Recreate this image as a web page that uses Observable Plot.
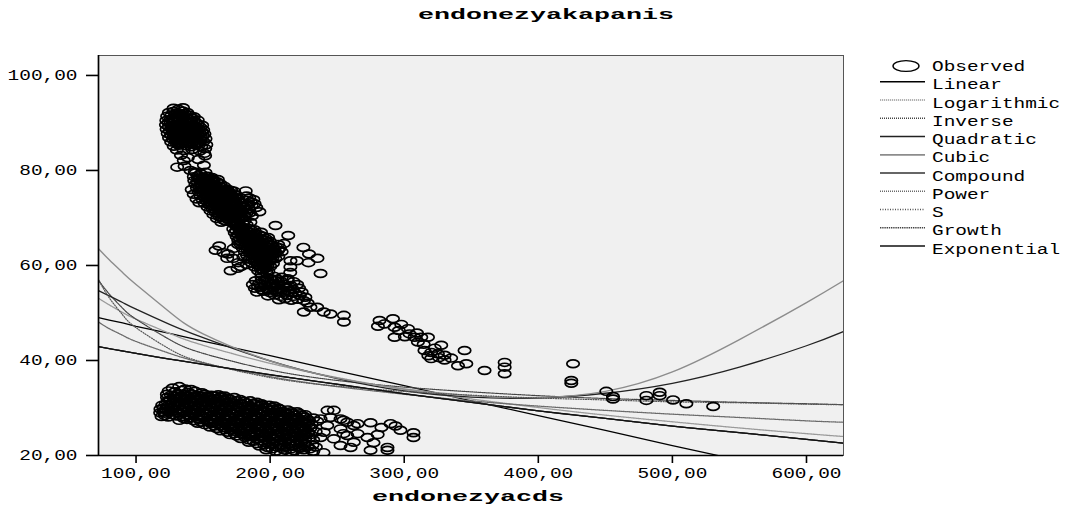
<!DOCTYPE html>
<html><head><meta charset="utf-8">
<script src="https://cdn.jsdelivr.net/npm/d3@7"></script>
<script src="https://cdn.jsdelivr.net/npm/@observablehq/plot@0.6"></script>
<style>
html,body{margin:0;padding:0;background:#fff;}
#chart{position:relative;width:1074px;height:507px;}
</style></head><body><div id="chart"></div>
<script>
const titleText = "endonezyakapanis";
const xLabel = "endonezyacds";
const xDomain = [72, 627.6];
const yDomain = [20, 104.2];
const xTicks = [100, 200, 300, 400, 500, 600];
const yTicks = [20, 40, 60, 80, 100];
const modelNames = ["Linear","Logarithmic","Inverse","Quadratic","Cubic","Compound","Power","S","Growth","Exponential"];

const fitX = [72, 80, 90, 100, 125, 150, 200, 250, 300, 350, 400, 450, 500, 550, 600, 627.6];
const linearFit = [49.0, 48.5, 47.9, 47.2, 45.7, 44.1, 41.0, 37.8, 34.7, 31.5, 28.4, 25.3, 22.1, 19.0, 15.8, 14.1];
const logFit = [53.1, 51.7, 50.1, 48.7, 45.7, 43.2, 39.4, 36.4, 33.9, 31.9, 30.1, 28.5, 27.1, 25.8, 24.6, 24.0];
const inverseFit = [56.9, 54.0, 51.0, 48.7, 44.4, 41.5, 38.0, 35.8, 34.4, 33.4, 32.6, 32.0, 31.6, 31.2, 30.9, 30.7];
const quadraticFit = [54.7, 53.6, 52.2, 50.8, 47.6, 44.8, 39.9, 36.2, 33.6, 32.3, 32.1, 33.1, 35.2, 38.6, 43.1, 46.1];
const cubicFit = [63.5, 61.2, 58.5, 56.0, 50.2, 45.6, 39.9, 36.3, 34.0, 32.6, 32.2, 33.5, 37.6, 44.4, 52.2, 56.8];
const powerFit = [48.1, 46.7, 45.3, 44.0, 41.5, 39.5, 36.6, 34.5, 32.9, 31.5, 30.4, 29.5, 28.7, 28.0, 27.3, 27.0];
const sFit = [57.0, 53.2, 49.6, 46.9, 42.4, 39.6, 36.4, 34.6, 33.5, 32.7, 32.1, 31.7, 31.3, 31.1, 30.8, 30.7];
const expFit = [42.9, 42.5, 42.0, 41.5, 40.3, 39.2, 37.0, 35.0, 33.0, 31.2, 29.4, 27.8, 26.2, 24.8, 23.4, 22.6];

const upperBand = [
[128.0,93.1],[131.5,92.9],[135.0,93.2],
[124.5,92.2],[127.8,92.4],[131.2,92.1],[134.6,92.5],[138.2,92.2],
[123.2,91.4],[126.5,91.6],[129.9,91.3],[133.3,91.7],[136.8,91.4],[140.2,91.6],[143.1,91.3],
[122.6,90.5],[125.9,90.8],[129.3,90.4],[132.7,90.7],[136.1,90.5],[139.5,90.8],[142.9,90.4],[146.0,90.6],
[122.3,89.6],[125.6,89.9],[129.0,89.5],[132.4,89.8],[135.8,89.6],[139.2,89.9],[142.6,89.5],[146.1,89.8],[149.3,89.5],
[122.8,88.7],[126.2,88.9],[129.6,88.6],[133.0,88.9],[136.4,88.7],[139.8,88.9],[143.2,88.6],[146.6,88.8],[150.1,88.5],
[123.6,87.8],[127.0,88.0],[130.4,87.7],[133.8,88.0],[137.2,87.8],[140.6,88.0],[144.0,87.6],[147.4,87.9],[151.0,87.7],
[124.6,86.9],[128.0,87.1],[131.4,86.8],[134.8,87.1],[138.2,86.9],[141.6,87.1],[145.0,86.8],[148.4,87.0],[151.8,86.7],
[126.2,86.0],[129.6,86.2],[133.0,85.9],[136.4,86.2],[139.8,86.0],[143.2,86.2],[146.6,85.9],[150.2,86.1],[152.4,85.4],
[128.1,85.1],[132.0,85.3],[137.5,85.2],[141.2,85.0],[144.8,85.3],[148.6,85.0],[151.6,84.6],
[130.4,84.3],[135.6,84.2],[142.0,84.4],[147.5,84.1],[150.9,83.6],
[129.6,92.0],[133.0,92.0],[136.4,92.0],
[128.2,91.0],[131.6,91.0],[135.0,91.1],[138.4,91.0],[141.8,91.0],
[124.2,90.1],[127.6,90.2],[131.0,90.1],[134.4,90.2],[137.8,90.1],[141.2,90.2],[144.6,90.1],
[124.5,89.2],[127.9,89.3],[131.3,89.2],[134.7,89.3],[138.1,89.2],[141.5,89.3],[144.9,89.2],[148.0,89.1],
[125.2,88.3],[128.6,88.4],[132.0,88.3],[135.4,88.4],[138.8,88.3],[142.2,88.4],[145.6,88.3],[149.0,88.2],
[126.2,87.4],[129.6,87.5],[133.0,87.4],[136.4,87.5],[139.8,87.4],[143.2,87.5],[146.6,87.4],[150.0,87.3],
[127.8,86.5],[131.2,86.6],[134.6,86.5],[138.0,86.6],[141.4,86.5],[144.8,86.6],[148.2,86.5],
[130.4,85.7],[134.6,85.7],[139.5,85.6],[143.5,85.7],[147.5,85.6],
[133.5,83.2],[138.6,82.7],[146.5,82.3],[151.5,83.1],[135.6,82.1],[130.7,80.7],[140.6,80.0],[150.6,81.1],[143.8,79.7],[136.2,80.9],
[144.6,79.5],[148.2,79.3],[151.8,79.6],
[143.1,78.7],[146.5,78.9],[150.0,78.6],[153.4,78.8],[156.6,78.5],
[143.4,77.9],[146.9,78.1],[150.6,77.8],[154.1,78.0],[157.9,77.8],[161.0,78.1],
[144.3,77.1],[148.1,77.3],[151.8,77.0],[155.5,77.2],[159.3,76.9],[162.8,77.2],
[145.4,76.3],[149.1,76.5],[153.1,76.2],[156.8,76.4],[160.5,76.2],[164.2,76.4],[168.0,76.1],
[146.7,75.5],[150.3,75.7],[154.4,75.4],[158.0,75.6],[162.0,75.4],[165.6,75.6],[169.4,75.3],[173.2,75.6],[181.8,75.7],
[148.1,74.7],[151.8,74.9],[155.8,74.6],[159.5,74.8],[163.4,74.6],[167.1,74.8],[171.0,74.5],[174.8,74.8],[182.4,74.6],
[149.6,73.9],[153.3,74.1],[157.3,73.8],[161.0,74.0],[165.0,73.8],[168.6,74.0],[172.6,73.7],[176.5,74.0],[183.1,73.7],[187.5,73.9],
[151.1,73.1],[154.7,73.3],[158.8,73.0],[162.4,73.2],[166.5,73.0],[170.1,73.2],[174.2,72.9],[178.0,73.2],[183.7,72.8],[188.4,73.0],
[153.3,72.3],[156.9,72.5],[161.0,72.2],[164.6,72.4],[168.7,72.2],[172.3,72.4],[176.4,72.1],[180.2,72.4],[184.3,71.9],[189.7,72.2],
[155.5,71.5],[159.2,71.7],[163.2,71.4],[166.9,71.6],[170.9,71.4],[174.6,71.6],[178.6,71.3],[184.9,71.1],[192.0,71.3],
[157.7,70.7],[161.4,70.9],[165.5,70.6],[169.1,70.8],[173.2,70.6],[176.9,70.8],[181.2,70.5],[186.4,70.4],
[160.3,69.9],[164.0,70.1],[168.1,69.8],[171.7,70.0],[175.8,69.8],[179.5,70.0],
[163.6,69.1],[167.3,69.3],[171.4,69.0],[175.1,69.2],[179.4,68.9],[185.3,69.1],
[141.5,76.0],[143.0,75.0],[145.1,74.0],[147.2,73.2],
[146.2,78.3],[149.8,78.3],[153.2,78.4],[156.3,78.2],
[146.2,77.5],[149.8,77.5],[153.5,77.6],[157.2,77.5],[160.6,77.6],
[147.2,76.7],[151.0,76.8],[154.8,76.7],[158.6,76.8],[162.2,76.7],[165.6,76.7],
[148.5,75.9],[152.3,76.0],[156.1,75.9],[159.9,76.0],[163.7,75.9],[167.4,75.9],[171.0,75.8],
[150.0,75.1],[153.8,75.2],[157.6,75.1],[161.4,75.2],[165.2,75.1],[169.0,75.2],[172.8,75.1],
[151.5,74.3],[155.3,74.4],[159.1,74.3],[162.9,74.4],[166.7,74.3],[170.5,74.4],[174.3,74.3],[184.5,74.2],
[153.0,73.5],[156.8,73.6],[160.6,73.5],[164.4,73.6],[168.2,73.5],[172.0,73.6],[175.8,73.5],[185.5,73.4],
[155.0,72.7],[158.8,72.8],[162.6,72.7],[166.4,72.8],[170.2,72.7],[174.0,72.8],[177.8,72.7],[186.2,72.6],
[157.2,71.9],[161.0,72.0],[164.8,71.9],[168.6,72.0],[172.4,71.9],[176.2,72.0],[180.0,71.9],
[159.5,71.1],[163.3,71.2],[167.1,71.1],[170.9,71.2],[174.7,71.1],[178.5,71.2],[182.3,71.0],
[162.0,70.3],[165.8,70.4],[169.6,70.3],[173.4,70.4],[177.2,70.3],[181.0,70.2],
[165.5,69.5],[169.3,69.6],[173.1,69.5],[176.9,69.6],[181.0,69.4],
[174.0,68.5],[178.0,68.3],[182.5,68.6],
[172.5,67.7],[176.3,67.9],[180.1,67.6],[184.0,67.8],[188.2,67.5],
[173.6,66.9],[177.4,67.1],[181.3,66.8],[185.1,67.0],[189.0,66.8],[193.2,67.0],[213.5,66.3],
[175.0,66.1],[178.8,66.3],[182.6,66.0],[186.5,66.2],[190.3,66.0],[194.2,66.2],[198.5,65.9],
[176.2,65.3],[180.0,65.5],[183.9,65.2],[187.7,65.4],[191.6,65.2],[195.4,65.4],[199.8,65.1],
[177.8,64.5],[181.6,64.7],[185.5,64.4],[189.3,64.6],[193.2,64.4],[197.0,64.6],[201.2,64.3],[206.0,64.4],[210.2,64.6],
[179.5,63.7],[183.3,63.9],[187.2,63.6],[191.0,63.8],[194.9,63.6],[198.7,63.8],[202.6,63.5],[207.3,63.7],[224.8,63.8],
[181.1,62.9],[185.0,63.1],[188.8,62.8],[192.7,63.0],[196.5,62.8],[200.4,63.0],[204.2,62.7],[208.6,62.9],
[182.8,62.1],[186.6,62.3],[190.5,62.0],[194.3,62.2],[198.2,62.0],[202.0,62.2],[206.1,61.9],
[184.6,61.3],[188.4,61.5],[192.3,61.2],[196.1,61.4],[200.0,61.2],[203.9,61.4],[215.2,61.0],[235.3,61.5],
[186.4,60.5],[190.3,60.7],[194.1,60.4],[198.0,60.6],[202.1,60.4],[215.1,59.7],[228.6,60.6],
[188.5,59.7],[192.4,59.9],[196.2,59.6],[200.1,59.8],
[191.0,58.9],[194.8,59.1],[198.7,58.8],[215.0,58.5],[237.6,58.3],
[193.5,58.2],[197.4,58.4],
[176.0,68.1],[180.0,68.0],
[174.6,67.3],[178.4,67.4],[182.2,67.3],[186.0,67.4],
[176.2,66.5],[180.0,66.6],[183.8,66.5],[187.6,66.6],[191.4,66.5],
[177.6,65.7],[181.4,65.8],[185.2,65.7],[189.0,65.8],[192.8,65.7],[196.6,65.7],
[179.0,64.9],[182.8,65.0],[186.6,64.9],[190.4,65.0],[194.2,64.9],[198.0,65.0],
[181.6,64.1],[185.4,64.2],[189.2,64.1],[193.0,64.2],[196.8,64.1],[200.6,64.2],[204.4,64.0],
[183.2,63.3],[187.0,63.4],[190.8,63.3],[194.6,63.4],[198.4,63.3],[202.2,63.4],[206.0,63.2],
[185.0,62.5],[188.8,62.6],[192.6,62.5],[196.4,62.6],[200.2,62.5],[204.0,62.5],
[186.6,61.7],[190.4,61.8],[194.2,61.7],[198.0,61.8],[201.8,61.7],
[188.5,60.9],[192.3,61.0],[196.1,60.9],[200.0,61.0],
[190.5,60.1],[194.3,60.2],[198.1,60.1],
[193.0,59.3],[196.8,59.4],
[159.3,63.2],[165.2,62.7],[162.0,64.1],[170.5,58.9],[175.7,59.4],[168.0,61.5],[168.5,62.4],[172.4,61.5],[176.3,60.6],[180.1,61.8],[178.2,59.8],[182.6,60.2],[172.8,63.6],[176.1,64.4],
[204.0,68.4],[220.0,61.0],[229.0,62.4],
[193.5,57.6],[198.2,57.4],[203.1,57.7],[208.7,57.5],[213.2,57.2],
[189.2,56.8],[193.8,56.9],[198.5,56.6],[203.4,56.9],[208.0,56.7],[212.8,56.9],[217.5,56.6],
[187.1,56.0],[191.7,56.2],[196.4,55.9],[201.2,56.1],[205.8,55.9],[210.5,56.1],[215.3,55.8],[220.2,56.0],
[188.6,55.2],[193.3,55.4],[198.0,55.1],[202.7,55.3],[207.4,55.1],[212.1,55.3],[216.9,55.0],[221.6,55.2],
[190.2,54.4],[195.0,54.6],[199.8,54.3],[204.6,54.5],[209.3,54.3],[214.0,54.5],[218.8,54.2],[223.5,54.4],
[198.4,53.6],[203.2,53.8],[208.0,53.5],[212.6,53.7],[217.4,53.5],[222.1,53.7],[226.3,53.3],
[206.5,52.8],[211.2,53.0],[215.8,52.7],[220.5,52.9],[225.2,52.6],
[196.0,57.0],[200.8,57.2],[205.6,57.1],[191.0,55.6],[195.9,55.7],[200.6,55.6],[205.3,55.7],[210.0,55.6],[214.7,55.5],
[194.0,54.9],[199.0,54.8],[203.8,54.9],[208.5,54.8],[213.2,54.8],
[225.1,50.2],[230.1,51.2],[235.1,51.2],[240.0,50.2],[245.0,49.8],[255.0,49.5],[255.0,48.1],[228.0,52.1],
[281.6,48.4],[285.3,47.7],[291.6,48.8],[292.8,47.0],[297.8,47.6],[280.4,47.2],[302.8,46.7],[292.8,44.9],[304.0,45.6],[307.7,44.9],
[312.7,44.9],[317.7,44.9],[310.2,43.9],[315.1,42.1],[320.1,41.7],[325.1,41.4],[330.1,41.1],[327.6,43.2],[320.1,40.4],[330.1,40.1],
[340.1,38.9],[345.0,42.1],[346.3,39.3],[359.9,37.9],[374.9,39.6],[374.9,38.6],[374.9,37.2],[425.9,39.3],[424.6,35.8],[424.6,35.2],
[450.7,33.5],[455.7,32.4],[455.7,31.9],[480.6,32.6],[480.6,31.6],[490.5,33.3],[490.5,32.6],[500.5,31.7],[510.4,30.9],[530.4,30.3],
[296.0,46.3],[300.5,45.0],[309.5,45.8],[314.5,43.4],[322.8,42.6],[318.0,41.0],[326.0,40.6],[335.0,40.5]
];

const lowerCluster = [
[127.3,34.2],[132.2,34.5],[136.6,34.0],[141.0,33.9],
[124.3,33.6],[129.1,33.4],[133.8,33.7],[138.9,33.3],[144.2,33.5],[149.1,33.2],
[123.0,32.9],[126.0,32.7],[131.2,33.0],[136.1,32.8],[141.0,33.0],[146.2,32.7],[151.1,32.9],[156.0,32.7],[161.3,32.8],[166.1,32.5],
[123.1,32.2],[128.2,32.0],[133.0,32.3],[138.1,32.0],[143.2,32.2],[148.0,32.1],[153.1,32.3],[158.2,32.0],[163.0,32.2],[168.1,32.1],[173.2,32.2],
[123.5,31.4],[125.0,31.6],[130.1,31.3],[135.2,31.5],[140.1,31.4],[145.0,31.6],[150.2,31.3],[155.1,31.5],[160.0,31.4],[165.2,31.6],[170.1,31.3],[175.0,31.5],[180.2,31.4],[185.1,31.5],[190.0,31.2],
[119.5,30.6],[122.0,30.8],[124.2,30.5],[129.1,30.7],[134.0,30.6],[139.2,30.8],[144.1,30.5],[149.0,30.7],[154.2,30.6],[159.1,30.8],[164.0,30.5],[169.2,30.7],[174.1,30.6],[179.0,30.8],[184.2,30.5],[189.1,30.7],[194.0,30.6],[199.2,30.6],[203.0,30.4],
[118.2,29.8],[120.5,30.0],[122.0,29.7],[127.2,29.9],[132.1,29.8],[137.0,30.0],[142.2,29.7],[147.1,29.9],[152.0,29.8],[157.2,30.0],[162.1,29.7],[167.0,29.9],[172.2,29.8],[177.1,30.0],[182.0,29.7],[187.2,29.9],[192.1,29.8],[197.0,30.0],[202.2,29.7],[207.1,29.8],[213.0,29.6],
[118.0,29.0],[120.5,29.2],[121.1,28.9],[126.0,29.1],[131.2,29.0],[136.1,29.2],[141.0,28.9],[146.2,29.1],[151.1,29.0],[156.0,29.2],[161.2,28.9],[166.1,29.1],[171.0,29.0],[176.2,29.2],[181.1,28.9],[186.0,29.1],[191.2,29.0],[196.1,29.2],[201.0,28.9],[206.2,29.1],[211.1,29.0],[216.0,28.9],[222.2,28.8],[226.1,28.6],
[119.0,28.2],[121.5,28.4],[124.0,28.1],[130.1,28.3],[135.0,28.2],[140.2,28.4],[145.1,28.1],[150.0,28.3],[155.2,28.2],[160.1,28.4],[165.0,28.1],[170.2,28.3],[175.1,28.2],[180.0,28.4],[185.2,28.1],[190.1,28.3],[195.0,28.2],[200.2,28.4],[205.1,28.1],[210.0,28.3],[215.2,28.2],[220.1,28.0],[226.0,28.1],[232.2,27.9],
[132.2,27.4],[138.0,27.6],[143.1,27.3],[148.2,27.5],[153.0,27.4],[158.1,27.6],[163.2,27.3],[168.0,27.5],[173.1,27.4],[178.2,27.6],[183.0,27.3],[188.1,27.5],[193.2,27.4],[198.0,27.6],[203.1,27.3],[208.2,27.5],[213.0,27.4],[218.1,27.6],[223.2,27.3],[229.0,27.4],[235.1,27.2],
[146.0,26.8],[151.2,26.5],[156.1,26.7],[161.0,26.6],[166.2,26.8],[171.1,26.5],[176.0,26.7],[181.2,26.6],[186.1,26.8],[191.0,26.5],[196.2,26.7],[201.1,26.6],[206.0,26.8],[211.2,26.5],[216.1,26.7],[221.0,26.6],[226.2,26.8],[231.1,26.5],
[155.2,26.0],[160.1,25.7],[165.0,25.9],[170.2,25.8],[175.1,26.0],[180.0,25.7],[185.2,25.9],[190.1,25.8],[195.0,26.0],[200.2,25.7],[205.1,25.9],[210.0,25.8],[215.2,26.0],[220.1,25.7],[225.0,25.9],[230.2,25.8],
[163.0,25.2],[168.2,24.9],[173.1,25.1],[178.0,25.0],[183.2,25.2],[188.1,24.9],[193.0,25.1],[198.2,25.0],[203.1,25.2],[208.0,24.9],[213.2,25.1],[218.1,25.0],[223.0,25.2],[228.2,24.9],[234.0,25.0],
[170.1,24.4],[175.0,24.1],[180.2,24.3],[185.1,24.2],[190.0,24.4],[195.2,24.1],[200.1,24.3],[205.0,24.2],[210.2,24.4],[215.1,24.1],[220.0,24.3],[225.2,24.2],[230.1,24.4],
[178.1,23.6],[184.0,23.3],[190.2,23.5],[196.1,23.4],[202.0,23.6],[208.2,23.3],[214.1,23.5],[220.0,23.4],[226.2,23.6],[232.1,23.3],
[184.1,22.8],[190.0,22.5],[196.2,22.7],[202.1,22.6],[208.0,22.8],[214.2,22.5],[220.1,22.7],[226.0,22.6],
[192.0,22.0],[198.2,21.7],[204.1,21.9],[210.0,21.8],[216.2,22.0],[222.1,21.7],[228.0,21.9],[234.1,21.8],
[197.1,21.2],[204.0,20.9],[211.2,21.1],[218.1,21.0],[225.0,21.2],[232.2,20.9],
[208.0,20.5],[216.2,20.3],[224.1,20.4],
[128.6,32.55],[133.5,32.6],[138.6,32.5],[143.5,32.6],[148.6,32.5],[153.5,32.6],[158.6,32.5],[163.5,32.4],
[125.6,31.8],[130.5,31.9],[135.6,31.8],[140.5,31.9],[145.6,31.8],[150.5,31.9],[155.6,31.8],[160.5,31.9],[165.6,31.8],[170.5,31.8],[177.6,31.8],
[127.6,31.0],[132.5,31.1],[137.6,31.0],[142.5,31.1],[147.6,31.0],[152.5,31.1],[157.6,31.0],[162.5,31.1],[167.6,31.0],[172.5,31.1],[177.6,31.0],[182.5,31.1],[187.6,31.0],[193.5,30.9],
[126.6,30.2],[131.5,30.3],[136.6,30.2],[141.5,30.3],[146.6,30.2],[151.5,30.3],[156.6,30.2],[161.5,30.3],[166.6,30.2],[171.5,30.3],[176.6,30.2],[181.5,30.3],[186.6,30.2],[191.5,30.3],[196.6,30.2],[201.5,30.1],[206.0,30.0],
[124.6,29.4],[129.5,29.5],[134.6,29.4],[139.5,29.5],[144.6,29.4],[149.5,29.5],[154.6,29.4],[159.5,29.5],[164.6,29.4],[169.5,29.5],[174.6,29.4],[179.5,29.5],[184.6,29.4],[189.5,29.5],[194.6,29.4],[199.5,29.5],[204.6,29.4],[209.5,29.3],[215.6,29.2],[220.0,29.2],
[127.6,28.6],[133.5,28.7],[138.6,28.6],[143.5,28.7],[148.6,28.6],[153.5,28.7],[158.6,28.6],[163.5,28.7],[168.6,28.6],[173.5,28.7],[178.6,28.6],[183.5,28.7],[188.6,28.6],[193.5,28.7],[198.6,28.6],[203.5,28.7],[208.6,28.6],[213.5,28.6],[218.6,28.5],[224.0,28.4],
[135.6,27.8],[140.5,27.9],[145.6,27.8],[150.5,27.9],[155.6,27.8],[160.5,27.9],[165.6,27.8],[170.5,27.9],[175.6,27.8],[180.5,27.9],[185.6,27.8],[190.5,27.9],[195.6,27.8],[200.5,27.9],[205.6,27.8],[210.5,27.9],[215.6,27.8],[220.5,27.7],[227.6,27.7],
[148.6,27.0],[153.5,27.1],[158.6,27.0],[163.5,27.1],[168.6,27.0],[173.5,27.1],[178.6,27.0],[183.5,27.1],[188.6,27.0],[193.5,27.1],[198.6,27.0],[203.5,27.1],[208.6,27.0],[213.5,27.1],[218.6,27.0],[223.5,27.0],[228.6,26.9],
[158.6,26.2],[163.5,26.3],[168.6,26.2],[173.5,26.3],[178.6,26.2],[183.5,26.3],[188.6,26.2],[193.5,26.3],[198.6,26.2],[203.5,26.3],[208.6,26.2],[213.5,26.3],[218.6,26.2],[223.5,26.3],[228.6,26.1],
[166.6,25.4],[171.5,25.5],[176.6,25.4],[181.5,25.5],[186.6,25.4],[191.5,25.5],[196.6,25.4],[201.5,25.5],[206.6,25.4],[211.5,25.5],[216.6,25.4],[221.5,25.5],[226.6,25.4],
[173.6,24.6],[178.5,24.7],[183.6,24.6],[188.5,24.7],[193.6,24.6],[198.5,24.7],[203.6,24.6],[208.5,24.7],[213.6,24.6],[218.5,24.7],[223.6,24.6],[228.5,24.7],
[181.6,23.8],[187.5,23.9],[193.6,23.8],[199.5,23.9],[205.6,23.8],[211.5,23.9],[217.6,23.8],[223.5,23.9],[229.6,23.8],
[187.6,23.0],[193.5,23.1],[199.6,23.0],[205.5,23.1],[211.6,23.0],[217.5,23.1],[223.6,23.0],
[195.6,22.2],[201.5,22.3],[207.6,22.2],[213.5,22.3],[219.6,22.2],[225.5,22.3],[231.6,22.2],
[201.6,21.4],[208.5,21.5],[215.6,21.4],[222.5,21.5],[229.6,21.4],
[242.8,29.5],[245.0,28.0],[254.7,27.4],[265.2,26.7],[274.9,26.9],[289.8,26.7],[297.2,25.3],[306.9,24.8],[306.9,23.8],[272.6,23.8],
[277.1,22.7],[260.0,21.7],[287.5,21.7],[287.5,21.1],[274.9,21.1],[239.8,20.6],[237.6,23.8],[254.7,24.6],[265.2,24.6],[247.5,29.5],
[252.5,27.7],[257.5,27.0],[262.4,26.3],[252.5,25.6],[242.6,26.3],[257.5,24.2],[262.4,22.8],[252.5,22.1],[247.5,23.5],[237.6,27.7],
[240.0,24.9],[283.0,25.9],[293.5,26.2],[280.2,24.4]
];

// ---- styling (not data) ----
const fits = {Linear: linearFit, Logarithmic: logFit, Inverse: inverseFit, Quadratic: quadraticFit, Cubic: cubicFit,
  Compound: expFit, Power: powerFit, S: sFit, Growth: expFit, Exponential: expFit};
const lineStyle = {
  Linear:      {stroke: "#000",    w: 1.3, dash: null},
  Logarithmic: {stroke: "#9a9a9a", w: 1.3, dash: "1.2,0.8"},
  Inverse:     {stroke: "#444",    w: 1.2, dash: "1,1"},
  Quadratic:   {stroke: "#222",    w: 1.3, dash: null},
  Cubic:       {stroke: "#8c8c8c", w: 1.4, dash: null},
  Compound:    {stroke: "#333",    w: 1.2, dash: null},
  Power:       {stroke: "#6a6a6a", w: 1.3, dash: "1,1"},
  S:           {stroke: "#555",    w: 1.2, dash: "1,1.5"},
  Growth:      {stroke: "#444",    w: 1.2, dash: "1.4,0.8"},
  Exponential: {stroke: "#111",    w: 1.3, dash: null}
};
function ellipseSymbol(rx, ry) {
  const k = 0.5523;
  return {draw(ctx) {
    ctx.moveTo(rx, 0);
    ctx.bezierCurveTo(rx, k * ry, k * rx, ry, 0, ry);
    ctx.bezierCurveTo(-k * rx, ry, -rx, k * ry, -rx, 0);
    ctx.bezierCurveTo(-rx, -k * ry, -k * rx, -ry, 0, -ry);
    ctx.bezierCurveTo(k * rx, -ry, rx, -k * ry, rx, 0);
    ctx.closePath();
  }};
}
const fmt = d => d3.format(".2f")(d).replace(".", ",");
const observed = upperBand.concat(lowerCluster);

const lineMarks = modelNames.map(name => {
  const st = lineStyle[name];
  const rows = fitX.map((x, i) => ({x, y: fits[name][i]}));
  return Plot.line(rows, {x: "x", y: "y", stroke: st.stroke, strokeWidth: st.w,
    strokeDasharray: st.dash || undefined, curve: name === "Linear" ? "linear" : "natural", clip: true});
});

const svg = Plot.plot({
  width: 1074, height: 507,
  marginLeft: 98, marginRight: 231, marginTop: 55, marginBottom: 52,
  style: {background: "#fff", fontFamily: "'Liberation Mono', monospace", fontSize: "14.5px", color: "#000"},
  x: {domain: xDomain, ticks: xTicks, tickFormat: fmt, tickSize: 8, tickPadding: 4, label: null},
  y: {domain: yDomain, ticks: yTicks, tickFormat: fmt, tickSize: 12, tickPadding: 9, label: null},
  marks: [
    Plot.frame({fill: "#f0f0f0", stroke: "#555", strokeWidth: 1}),
    ...lineMarks,
    Plot.dot(observed, {x: d => d[0], y: d => d[1], symbol: ellipseSymbol(6.2, 3.9), stroke: "#000",
      strokeWidth: 1.7, fill: "none", clip: true}),
    Plot.ruleX([xDomain[0]], {stroke: "#000", strokeWidth: 1.7}),
    Plot.ruleY([yDomain[0]], {stroke: "#000", strokeWidth: 1.7})
  ]
});

svg.querySelectorAll('g[aria-label="x-axis tick"], g[aria-label="y-axis tick"]').forEach(g => {
  g.setAttribute("stroke-width", 1.6); g.setAttribute("stroke", "#000");
});
svg.querySelectorAll('g[aria-label="x-axis tick label"] text, g[aria-label="y-axis tick label"] text').forEach(t => {
  const tr = t.getAttribute("transform") || "";
  t.setAttribute("transform", tr + " scale(1.34,1)");
});

const s = d3.select(svg);
s.append("text").attr("transform", "translate(546,19) scale(1.78,1)").attr("text-anchor", "middle")
  .attr("font-weight", "bold").attr("font-size", 15).attr("fill", "#000").text(titleText);
s.append("text").attr("transform", "translate(468,501) scale(1.78,1)").attr("text-anchor", "middle")
  .attr("font-weight", "bold").attr("font-size", 15).attr("fill", "#000").text(xLabel);

const lg = s.append("g").attr("font-size", 14.5).attr("fill", "#000").attr("text-anchor", "start");
const obsSym = ellipseSymbol(13, 5.4);
lg.append("path").attr("transform", "translate(906,66)").attr("d", d3.symbol(obsSym)())
  .attr("fill", "none").attr("stroke", "#000").attr("stroke-width", 1.4);
lg.append("text").attr("transform", "translate(932,66) scale(1.34,1)").attr("dy", "0.35em").text("Observed");
modelNames.forEach((name, i) => {
  const yy = 84.3 + i * 18.25;
  const st = lineStyle[name];
  lg.append("line").attr("x1", 880).attr("x2", 925).attr("y1", yy - 2.5).attr("y2", yy - 2.5)
    .attr("stroke", st.stroke).attr("stroke-width", st.w + 0.3).attr("stroke-dasharray", st.dash);
  lg.append("text").attr("transform", `translate(932,${yy}) scale(1.34,1)`).attr("dy", "0.35em").text(name);
});

document.getElementById("chart").appendChild(svg);
</script>
</body></html>
